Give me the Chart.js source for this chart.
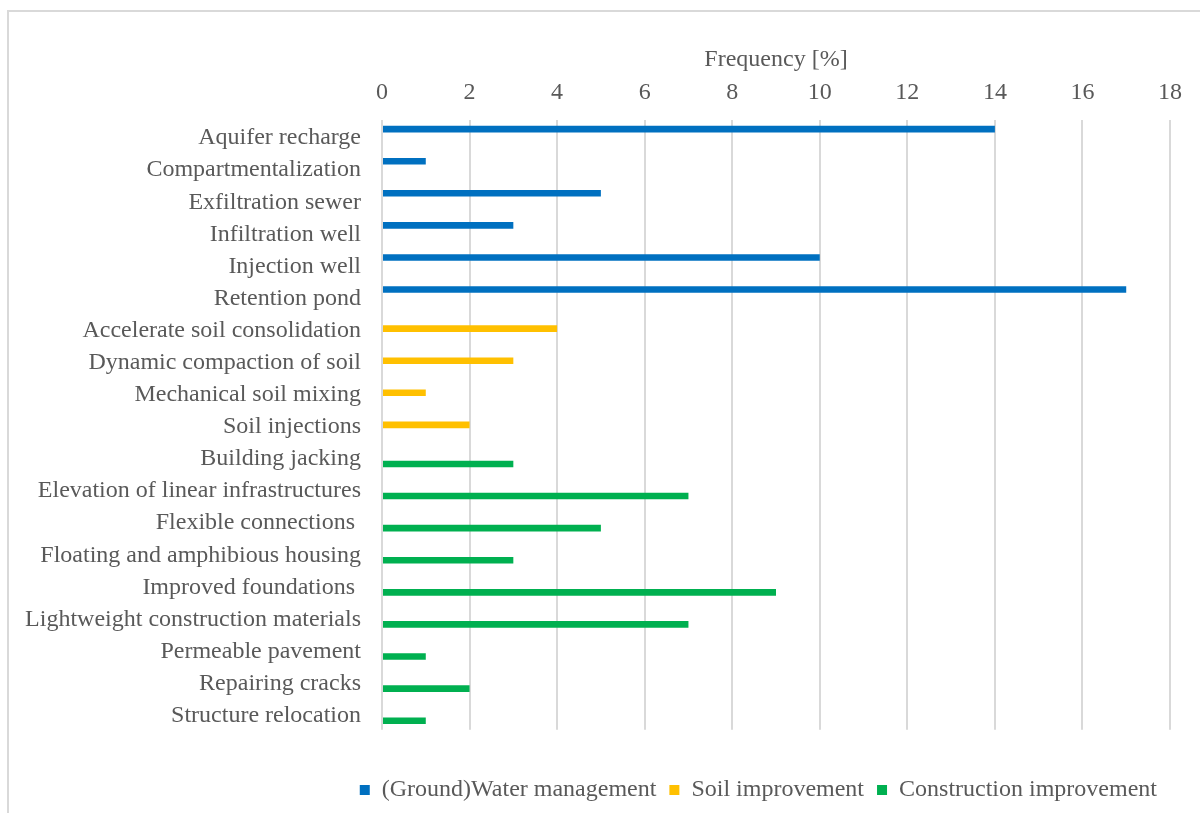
<!DOCTYPE html>
<html>
<head>
<meta charset="utf-8">
<script src="https://cdn.jsdelivr.net/npm/chart.js@4"></script>
<style>
  html, body { margin: 0; padding: 0; background: #ffffff; overflow: hidden; }
  #marco { position: absolute; left: 7px; top: 10px; width: 1300px; height: 900px; border: 2px solid #d9d9d9; }
  #cuadroGrafico { position: absolute; left: 0; top: 0; }
</style>
</head>
<body>
<div id="marco"></div>
<canvas id="cuadroGrafico" width="1200" height="813"></canvas>
<script>

var categorias = [
  "Aquifer recharge",
  "Compartmentalization",
  "Exfiltration sewer",
  "Infiltration well",
  "Injection well",
  "Retention pond",
  "Accelerate soil consolidation",
  "Dynamic compaction of soil",
  "Mechanical soil mixing",
  "Soil injections",
  "Building jacking",
  "Elevation of linear infrastructures",
  "Flexible connections ",
  "Floating and amphibious housing",
  "Improved foundations ",
  "Lightweight construction materials",
  "Permeable pavement",
  "Repairing cracks",
  "Structure relocation"
];

var aguaSubterranea = [14, 1, 5, 3, 10, 17, null, null, null, null, null, null, null, null, null, null, null, null, null];
var mejoraSuelo     = [null, null, null, null, null, null, 4, 3, 1, 2, null, null, null, null, null, null, null, null, null];
var mejoraConstruccion = [null, null, null, null, null, null, null, null, null, null, 3, 7, 5, 3, 9, 7, 1, 2, 1];

var nombresSeries = ["(Ground)Water management", "Soil improvement", "Construction improvement"];
var coloresSeries = ["#0070c0", "#ffc000", "#00b050"];


function generarGrafico () {

    var cuadroGrafico = document.getElementById('cuadroGrafico');
    var colorTexto = '#595959';
    var fuente = "'Liberation Serif', 'Times New Roman', serif";
    var tamano = 24;

    var datosImprimir = {
        labels: categorias,
        datasets: [
          { label: nombresSeries[0], data: aguaSubterranea, backgroundColor: coloresSeries[0] },
          { label: nombresSeries[1], data: mejoraSuelo, backgroundColor: coloresSeries[1] },
          { label: nombresSeries[2], data: mejoraConstruccion, backgroundColor: coloresSeries[2] }
        ]
    };

    var chartOptions = {
        indexAxis: 'y',
        responsive: false,
        animation: false,
        layout: { padding: { left: 0, right: 30, top: 0, bottom: 1 } },
        datasets: { bar: { categoryPercentage: 0.65, barPercentage: 0.95 } },
        scales: {
          x: {
            position: 'top',
            min: 0,
            max: 18,
            ticks: { stepSize: 2, color: colorTexto, padding: 13, font: { family: fuente, size: tamano } },
            grid: { color: '#d9d9d9', lineWidth: 2, drawTicks: false },
            border: { display: false },
            title: {
              display: true,
              text: 'Frequency [%]',
              color: colorTexto,
              font: { family: fuente, size: tamano },
              padding: { top: 45, bottom: 0 }
            },
            afterFit: function (escala) { escala.height = 120; }
          },
          y: {
            ticks: { color: colorTexto, padding: 21, labelOffset: 2, font: { family: fuente, size: tamano } },
            grid: { display: false, drawTicks: false },
            border: { display: false },
            afterFit: function (escala) { escala.width = 382; }
          }
        },
        plugins: {
          tooltip: { enabled: false },
          legend: {
            position: 'bottom',
            align: 'end',
            title: { display: true, text: ' ', font: { size: 1 }, padding: { top: 0, bottom: 34 } },
            labels: {
              boxWidth: 10,
              boxHeight: 10,
              padding: 13,
              color: colorTexto,
              font: { family: fuente, size: tamano }
            }
          }
        }
    };

    var barChart = new Chart(cuadroGrafico, {
        type: 'bar',
        data: datosImprimir,
        options: chartOptions
    });

}

generarGrafico();

</script>
</body>
</html>
